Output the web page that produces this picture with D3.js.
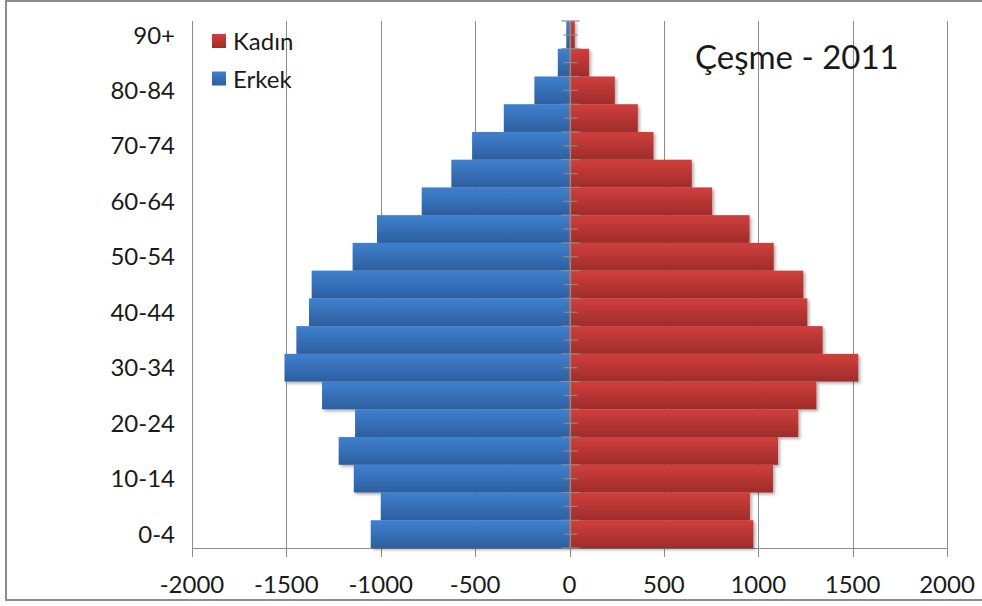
<!DOCTYPE html>
<html>
<head>
<meta charset="utf-8">
<script src="https://cdn.jsdelivr.net/npm/d3@7/dist/d3.min.js"></script>
<style>
  html, body { margin: 0; padding: 0; background: #fff; }
  svg { display: block; }
  text { font-family: Lato, "Open Sans", sans-serif; fill: #1a1a1a; }
</style>
</head>
<body>
<svg id="chart" width="982" height="606"></svg>
<script>
// Data
const categories = ["0-4","5-9","10-14","15-19","20-24","25-29","30-34","35-39","40-44","45-49","50-54","55-59","60-64","65-69","70-74","75-79","80-84","85-89","90+"];
const erkek = [-1053,-1000,-1143,-1223,-1136,-1311,-1510,-1447,-1380,-1366,-1149,-1020,-783,-626,-516,-348,-186,-62,-17];
const kadin = [974,956,1078,1105,1212,1308,1530,1341,1260,1239,1082,954,756,648,445,362,240,104,28];
const xTicks = [-2000,-1500,-1000,-500,0,500,1000,1500,2000];
const seriesNames = ["Kadın","Erkek"];
const title = "Çeşme - 2011";

(function () {
const svg = d3.select("#chart");
const pLeft = 192, pRight = 947, pTop = 21, pBottom = 548;

const x = d3.scaleLinear().domain([-2000, 2000]).range([pLeft, pRight]);
const y = d3.scaleBand().domain(categories.slice().reverse()).range([pTop, pBottom]).padding(0);

const defs = svg.append("defs");
function grad(id, c1, c2) {
  const g = defs.append("linearGradient").attr("id", id).attr("x1", 0).attr("y1", 0).attr("x2", 0).attr("y2", 1);
  g.append("stop").attr("offset", "0%").attr("stop-color", c1);
  g.append("stop").attr("offset", "100%").attr("stop-color", c2);
}
grad("gBlue", "#3f80cf", "#2d5f9f");
grad("gRed", "#d03f3c", "#9f2c2a");
const f = defs.append("filter").attr("id", "shadow").attr("x", "-10%").attr("y", "-20%").attr("width", "120%").attr("height", "160%");
f.append("feDropShadow").attr("dx", 2).attr("dy", 2).attr("stdDeviation", 1.5).attr("flood-color", "#000").attr("flood-opacity", 0.3);

// outer border
svg.append("rect").attr("x", 6).attr("y", 1).attr("width", 990).attr("height", 599)
  .attr("fill", "none").attr("stroke", "#8c8c8c").attr("stroke-width", 2);

// gridlines
svg.append("g").selectAll("line").data(xTicks).join("line")
  .attr("x1", d => Math.round(x(d)) + 0.5).attr("x2", d => Math.round(x(d)) + 0.5)
  .attr("y1", pTop).attr("y2", pBottom + 9)
  .attr("stroke", "#8c8c8c").attr("stroke-width", 1);

// bottom axis line
svg.append("line").attr("x1", pLeft).attr("x2", pRight + 1).attr("y1", pBottom + 0.5).attr("y2", pBottom + 0.5)
  .attr("stroke", "#8c8c8c").attr("stroke-width", 1.2);

// bars
const bars = svg.append("g").attr("filter", "url(#shadow)");
bars.selectAll("rect.e").data(categories).join("rect").attr("class", "e")
  .attr("x", (d, i) => x(erkek[i])).attr("width", (d, i) => x(0) - x(erkek[i]))
  .attr("y", d => y(d)).attr("height", y.bandwidth())
  .attr("fill", "url(#gBlue)");
bars.selectAll("rect.k").data(categories).join("rect").attr("class", "k")
  .attr("x", x(0)).attr("width", (d, i) => x(kadin[i]) - x(0))
  .attr("y", d => y(d)).attr("height", y.bandwidth())
  .attr("fill", "url(#gRed)");

// central axis
const cx = Math.round(x(0)) + 0.5;
svg.append("line").attr("x1", cx).attr("x2", cx).attr("y1", pTop).attr("y2", pBottom)
  .attr("stroke", "#8c8c8c").attr("stroke-width", 1.2);
const bounds = categories.map(c => y(c)).concat([pBottom]);
svg.append("g").selectAll("line").data(bounds).join("line")
  .attr("x1", cx - 9).attr("x2", cx + 9)
  .attr("y1", d => d).attr("y2", d => d)
  .attr("stroke", "#8c8c8c").attr("stroke-width", 1.2);
svg.append("g").selectAll("line").data(categories).join("line")
  .attr("x1", cx - 7).attr("x2", cx + 7)
  .attr("y1", d => y(d) + y.bandwidth() / 2).attr("y2", d => y(d) + y.bandwidth() / 2)
  .attr("stroke", "#8c8c8c").attr("stroke-width", 1.2);

// y labels
svg.append("g").selectAll("text").data(categories.filter((d, i) => i % 2 === 0)).join("text")
  .attr("x", 175).attr("y", d => y(d) + y.bandwidth() / 2)
  .attr("dy", "0.36em").attr("text-anchor", "end")
  .attr("font-size", 24).text(d => d);

// x labels
svg.append("g").selectAll("text").data(xTicks).join("text")
  .attr("x", d => x(d)).attr("y", 584).attr("dy", "0.36em")
  .attr("text-anchor", "middle").attr("font-size", 24).text(d => d);

// legend
const lg = svg.append("g");
seriesNames.forEach((n, i) => {
  lg.append("rect").attr("x", 212).attr("y", 34 + i * 37.5).attr("width", 14).attr("height", 14)
    .attr("fill", i === 0 ? "url(#gRed)" : "url(#gBlue)");
  lg.append("text").attr("x", 233).attr("y", 50 + i * 37.5).attr("font-size", 24).text(n);
});

// title
svg.append("text").attr("x", 695).attr("y", 69).attr("font-size", 33).text(title);
})();
</script>
</body>
</html>
